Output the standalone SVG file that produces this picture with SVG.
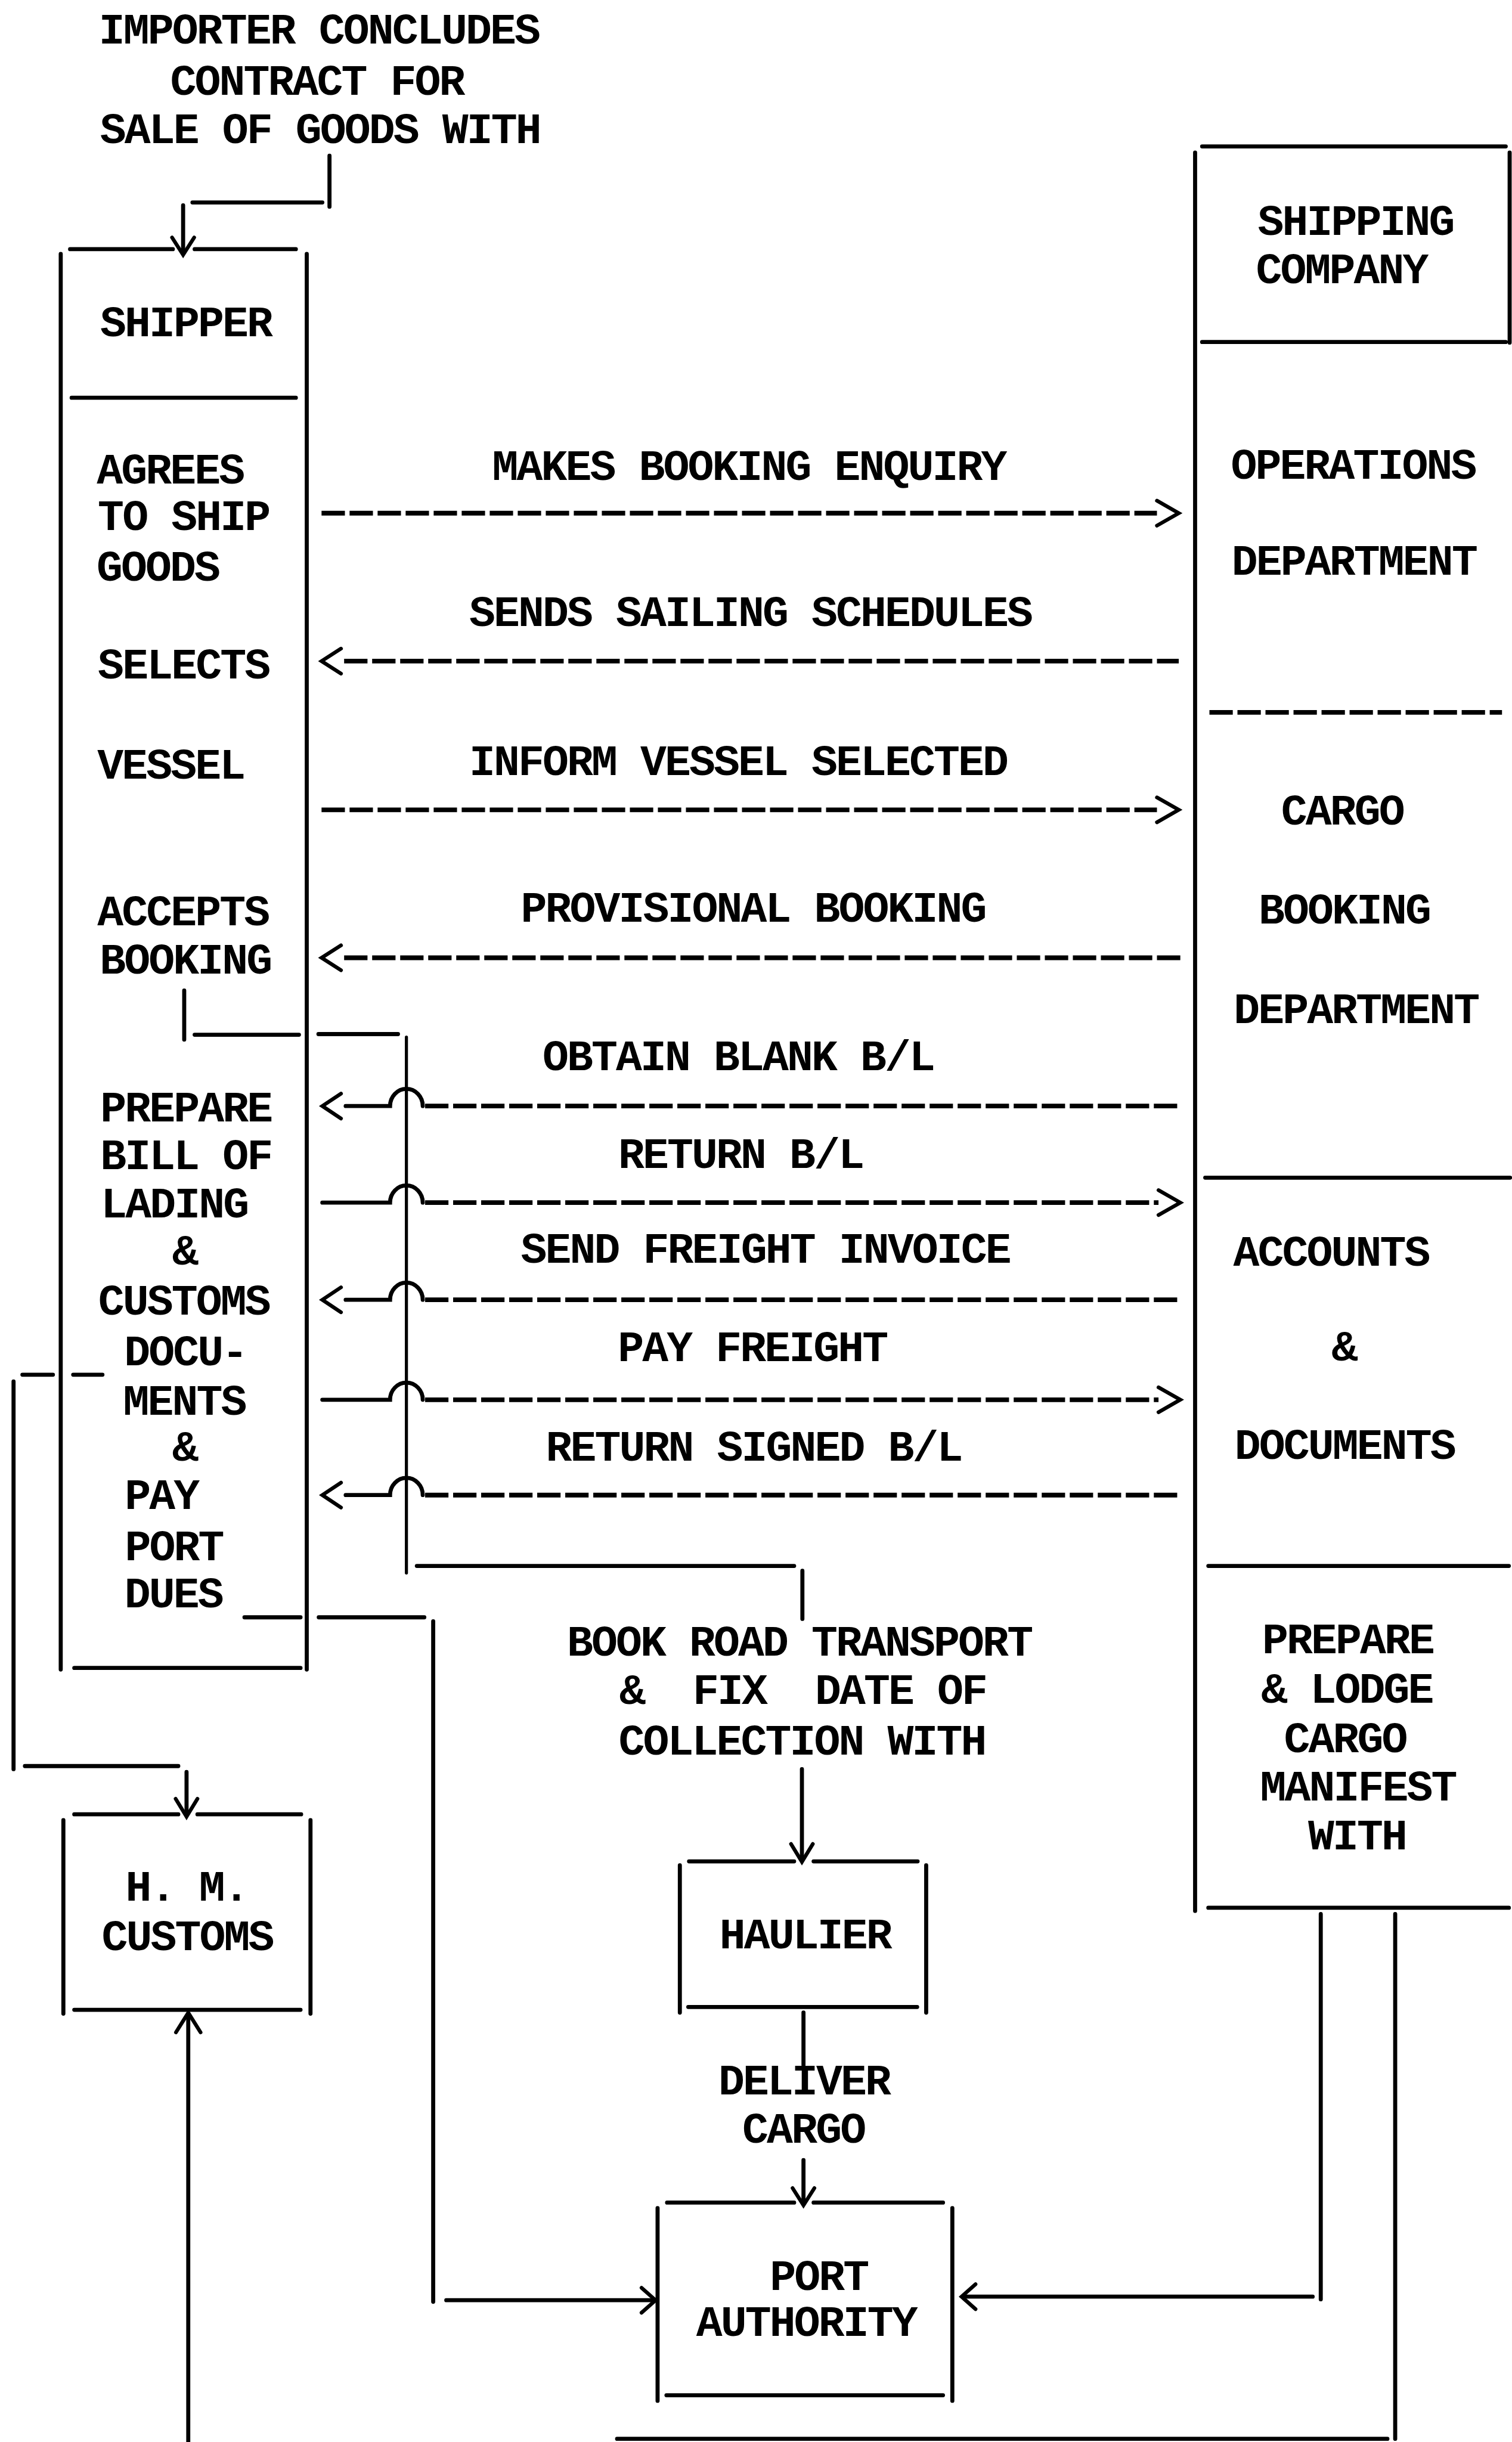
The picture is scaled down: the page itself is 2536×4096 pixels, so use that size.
<svg xmlns="http://www.w3.org/2000/svg" width="2536" height="4096" viewBox="0 0 2536 4096">
<style>
.ln{stroke:#000;stroke-width:2.6;fill:none;stroke-linecap:round}
.th{stroke-width:2}
.ds{stroke-dasharray:15 3;stroke-width:3;stroke-linecap:butt}
.ah{stroke:#000;stroke-width:2.4;fill:none;stroke-linecap:round;stroke-linejoin:miter}
text{font-family:"Liberation Mono","DejaVu Sans Mono",monospace;font-size:28px;letter-spacing:-1.1px;font-weight:bold;fill:#000;text-anchor:middle}
</style>
<rect width="2536" height="4096" fill="#fff"/>
<g transform="scale(2.6117 2.6122)">
<g id="importer-note">
<text x="204.8" y="28">IMPORTER CONCLUDES</text>
<text x="203.5" y="61">CONTRACT FOR</text>
<text x="205.5" y="91.8">SALE OF GOODS WITH</text>
</g>
<g id="shipper">
<path class="ln" d="M45 160H111M125 160H190M39 163V1072M197 163V1072M46 255.4H190M47.7 1071H193"/>
<text x="119.3" y="216">SHIPPER</text>
<text x="109.2" y="310.5">AGREES</text>
<text x="117.8" y="340.4">TO SHIP</text>
<text x="101.3" y="373">GOODS</text>
<text x="117.8" y="435.8">SELECTS</text>
<text x="109.6" y="500">VESSEL</text>
<text x="117.5" y="594">ACCEPTS</text>
<text x="119" y="625">BOOKING</text>
<text x="119.4" y="720">PREPARE</text>
<text x="119.4" y="750.8">BILL OF</text>
<text x="111.9" y="781.7">LADING</text>
<text x="118.5" y="812">&amp;</text>
<text x="118" y="844">CUSTOMS</text>
<text x="119" y="876.6">DOCU-</text>
<text x="118.3" y="908.4">MENTS</text>
<text x="118.5" y="938">&amp;</text>
<text x="103.7" y="969">PAY</text>
<text x="111.6" y="1001.7">PORT</text>
<text x="111.3" y="1032">DUES</text>
</g>
<g id="shipping-company">
<path class="ln" d="M772 94H967M767.5 98V1227M969.5 98V220M772 219.6H967M774 756.2H969.8M776 1005.5H969M776 1225H969"/>
<path class="ln ds" d="M776.7 457.4H964.6"/>
<text x="870.5" y="151">SHIPPING</text>
<text x="861.5" y="182">COMPANY</text>
<text x="869" y="307.6">OPERATIONS</text>
<text x="869.5" y="369">DEPARTMENT</text>
<text x="862" y="529.4">CARGO</text>
<text x="863.2" y="593">BOOKING</text>
<text x="870.8" y="657">DEPARTMENT</text>
<text x="854.8" y="812.6">ACCOUNTS</text>
<text x="863" y="873.6">&amp;</text>
<text x="863.5" y="936.6">DOCUMENTS</text>
<text x="865.5" y="1061.5">PREPARE</text>
<text x="865" y="1093.5">&amp; LODGE</text>
<text x="863.8" y="1125">CARGO</text>
<text x="872" y="1156">MANIFEST</text>
<text x="871.5" y="1187.5">WITH</text>
</g>
<g id="hm-customs">
<path class="ln" d="M47.7 1165H114.5M126.8 1165H193.4M40.7 1168.7V1293M199.4 1168.7V1293M47.7 1290.5H193"/>
<text x="119.9" y="1220.3">H. M.</text>
<text x="120.2" y="1252.3">CUSTOMS</text>
</g>
<g id="haulier">
<path class="ln" d="M442.5 1195.2H510M522.5 1195.2H589.3M436.6 1197.7V1292.3M594.8 1197.7V1292.3M442 1288.7H589"/>
<text x="517" y="1251">HAULIER</text>
</g>
<g id="port-authority">
<path class="ln" d="M428.4 1414.3H510M522.5 1414.3H605.6M422.3 1417.8V1541.6M611.6 1417.8V1541.6M428 1538H605.6"/>
<text x="525.8" y="1470.6">PORT</text>
<text x="517.8" y="1499.7">AUTHORITY</text>
</g>
<g id="connectors">
<path class="ln" d="M211.6 100V132.7M123.6 130H207M117.6 131.8V162"/>
<path class="ah" d="M110.5 152.5L117.6 163.6L124.7 152.5"/>
<text x="480.9" y="308">MAKES BOOKING ENQUIRY</text>
<path class="ln ds" d="M206.5 329.5H743"/>
<path class="ah" d="M743 321.5L757 329.5L743 337.5"/>
<text x="481.9" y="402">SENDS SAILING SCHEDULES</text>
<path class="ah" d="M219 416.5L206.5 424.5L219 432.5"/>
<path class="ln ds" d="M221 424.5H757"/>
<text x="474" y="497.6">INFORM VESSEL SELECTED</text>
<path class="ln ds" d="M206.5 520H743"/>
<path class="ah" d="M743 512L757 520L743 528"/>
<text x="483.6" y="592">PROVISIONAL BOOKING</text>
<path class="ah" d="M219 607L206.5 615L219 623"/>
<path class="ln ds" d="M221 615H758"/>
<path class="ln" d="M118.3 636V667.5M125 664.4H192M204.5 664H255.6"/>
<path class="ln th" d="M261 666V1010"/>
<text x="474" y="687">OBTAIN BLANK B/L</text>
<path class="ah" d="M219 702.2L207 710.2L219 718.2"/>
<path class="ln" d="M222 710.2H250.5A10.5 11 0 0 1 271.5 710.2"/>
<path class="ln ds" d="M273 710.2H758"/>
<text x="475.6" y="750">RETURN B/L</text>
<path class="ln" d="M207 772.2H250.5A10.5 11 0 0 1 271.5 772.2"/>
<path class="ln ds" d="M273 772.2H744"/>
<path class="ah" d="M744 764.2L758 772.2L744 780.2"/>
<text x="491.5" y="811">SEND FREIGHT INVOICE</text>
<path class="ah" d="M219 826.6L207 834.6L219 842.6"/>
<path class="ln" d="M222 834.6H250.5A10.5 11 0 0 1 271.5 834.6"/>
<path class="ln ds" d="M273 834.6H758"/>
<text x="483.1" y="874">PAY FREIGHT</text>
<path class="ln" d="M207 898.8H250.5A10.5 11 0 0 1 271.5 898.8"/>
<path class="ln ds" d="M273 898.8H744"/>
<path class="ah" d="M744 890.8L758 898.8L744 906.8"/>
<text x="484" y="938">RETURN SIGNED B/L</text>
<path class="ah" d="M219 952L207 960L219 968"/>
<path class="ln" d="M222 960H250.5A10.5 11 0 0 1 271.5 960"/>
<path class="ln ds" d="M273 960H759"/>
<path class="ln" d="M267.7 1005.5H510M515.3 1008.6V1039.5"/>
<text x="513.3" y="1063">BOOK ROAD TRANSPORT</text>
<text x="515.6" y="1094" xml:space="preserve">&amp;  FIX  DATE OF</text>
<text x="515" y="1126.5">COLLECTION WITH</text>
<path class="ln" d="M515 1136V1194"/>
<path class="ah" d="M508 1184L515 1195.5L522 1184"/>
<path class="ln" d="M516 1292.3V1326"/>
<text x="516.3" y="1345">DELIVER</text>
<text x="516" y="1376">CARGO</text>
<path class="ln" d="M516 1387V1414"/>
<path class="ah" d="M509 1405L516 1416L523 1405"/>
<path class="ln" d="M14.4 882.7H34M47 882.7H65.8M8.7 887V1136M16 1134H114.5M119.8 1137.8V1164"/>
<path class="ah" d="M112.8 1155L119.8 1166.5L126.8 1155"/>
<path class="ln" d="M157 1038.5H193M204.7 1038.5H272.5M278.2 1041V1478M286.6 1477H419"/>
<path class="ah" d="M412 1469L421 1477L412 1485"/>
<path class="ln" d="M848.2 1229V1476.4M843 1474.7H620"/>
<path class="ah" d="M626.5 1466.7L617.5 1474.7L626.5 1482.7"/>
<path class="ln" d="M896 1229V1566M891 1566H396.3M120.9 1568V1294"/>
<path class="ah" d="M113 1305L120.9 1292.4L128.8 1305"/>
</g>
</g>
</svg>
